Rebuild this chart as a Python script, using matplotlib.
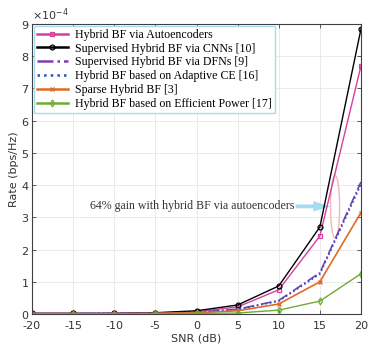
import matplotlib
matplotlib.use("Agg")
import matplotlib.pyplot as plt
from matplotlib.patches import Ellipse, FancyArrow
from matplotlib.ticker import ScalarFormatter

snr = [-20, -15, -10, -5, 0, 5, 10, 15, 20]
autoenc = [0.02e-4, 0.02e-4, 0.02e-4, 0.03e-4, 0.07e-4, 0.22e-4, 0.75e-4, 2.42e-4, 7.70e-4]
cnn = [0.02e-4, 0.02e-4, 0.02e-4, 0.04e-4, 0.10e-4, 0.28e-4, 0.87e-4, 2.70e-4, 8.85e-4]
dfn = [0.01e-4, 0.01e-4, 0.02e-4, 0.02e-4, 0.05e-4, 0.15e-4, 0.42e-4, 1.28e-4, 4.10e-4]
adaptive = [0.01e-4, 0.01e-4, 0.02e-4, 0.02e-4, 0.05e-4, 0.14e-4, 0.40e-4, 1.24e-4, 4.02e-4]
sparse = [0.01e-4, 0.01e-4, 0.01e-4, 0.02e-4, 0.04e-4, 0.10e-4, 0.31e-4, 1.00e-4, 3.15e-4]
effpow = [0.01e-4, 0.01e-4, 0.01e-4, 0.01e-4, 0.02e-4, 0.03e-4, 0.12e-4, 0.40e-4, 1.25e-4]

labels = ["Hybrid BF via Autoencoders",
          "Supervised Hybrid BF via CNNs [10]",
          "Supervised Hybrid BF via DFNs [9]",
          "Hybrid BF based on Adaptive CE [16]",
          "Sparse Hybrid BF [3]",
          "Hybrid BF based on Efficient Power [17]"]

fig = plt.figure(figsize=(3.68, 3.5), dpi=100)
ax = fig.add_axes([32/368, 1-314/350, 329/368, 290/350])

ax.plot(snr, autoenc, color="#d43fa0", lw=1.0, marker="s", ms=3.5, mfc="none", mew=0.9, label=labels[0])
ax.plot(snr, cnn, color="black", lw=1.0, marker="o", ms=3.5, mfc="none", mew=0.9, label=labels[1])
ax.plot(snr, dfn, color="#7e3fb0", lw=1.2, ls="-.", label=labels[2])
ax.plot(snr, adaptive, color="#2a4fc0", lw=1.2, ls=":", label=labels[3])
ax.plot(snr, sparse, color="#e06a28", lw=1.2, marker="x", ms=3.5, mew=1.0, label=labels[4])
ax.plot(snr, effpow, color="#6faa36", lw=1.0, marker="d", ms=3.5, mfc="none", mew=0.9, label=labels[5])

ax.set_xlim(-20, 20)
ax.set_ylim(0, 9e-4)
ax.set_xticks([-20, -15, -10, -5, 0, 5, 10, 15, 20])
ax.set_xticklabels(["-20", "-15", "-10", "-5", "0", "5", "10", "15", "20"])
ax.set_yticks([i*1e-4 for i in range(10)])
fmt = ScalarFormatter(useMathText=True)
fmt.set_powerlimits((-3, 3))
ax.yaxis.set_major_formatter(fmt)
ax.yaxis.get_offset_text().set_fontsize(8)
ax.yaxis.get_offset_text().set_color("#333333")

ax.grid(True, color="#e6e6e6", lw=0.6)
ax.set_axisbelow(True)
for s in ax.spines.values():
    s.set_color("#404040")
    s.set_linewidth(0.8)
ax.tick_params(direction="in", labelsize=8, colors="#404040", length=3, width=0.6,
               top=True, right=True, labelcolor="#333333")
ax.tick_params(axis="x", pad=5)
ax.tick_params(axis="y", pad=2)
ax.set_xlabel("SNR (dB)", fontsize=8, color="#333333", labelpad=2)
ax.set_ylabel("Rate (bps/Hz)", fontsize=8, color="#333333", labelpad=1)

leg = ax.legend(loc="upper left", prop={"family": "Liberation Serif", "size": 8.6},
                frameon=True, fancybox=False, borderaxespad=0.15, handlelength=2.6,
                labelspacing=0.15, borderpad=0.25, handletextpad=0.6)
leg.get_frame().set_edgecolor("#a6dcef")
leg.get_frame().set_linewidth(1.0)
leg.get_frame().set_alpha(1)
for line in leg.get_lines():
    line.set_linewidth(1.8)

ax.add_patch(Ellipse((16.85, 3.33e-4), 1.1, 1.95e-4, fill=False, edgecolor="#f2b8bf", lw=1.0))
ax.add_patch(FancyArrow(12.05, 3.34e-4, 4.25, 0, width=0.12e-4, head_width=0.32e-4,
                        head_length=2.1, length_includes_head=True,
                        color="#a6dcef", lw=0))
ax.text(11.95, 3.34e-4, "64% gain with hybrid BF via autoencoders", ha="right", va="center",
        fontsize=8.6, family="Liberation Serif", color="#333333")

fig.savefig("out.png", dpi=100)
